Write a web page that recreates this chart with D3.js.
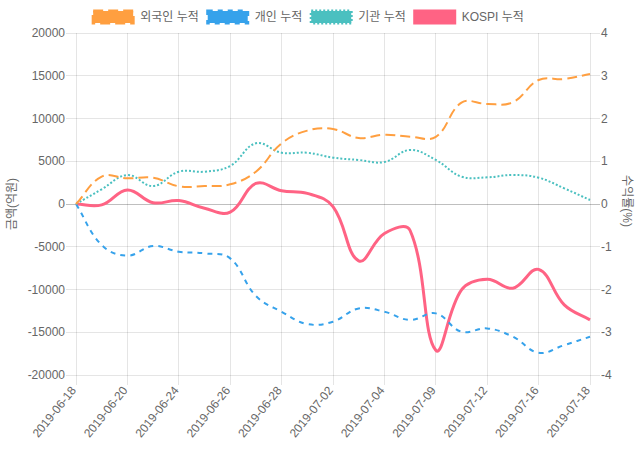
<!DOCTYPE html>
<html><head><meta charset="utf-8">
<script src="https://cdnjs.cloudflare.com/ajax/libs/d3/7.8.5/d3.min.js"></script>
<style>
html,body{margin:0;padding:0;background:#fff;}
svg{display:block;font-family:"Liberation Sans",Arial,"Noto Sans CJK KR",sans-serif;}
</style></head>
<body><svg id="c" width="640" height="450"></svg>
<script>
const dates = ["2019-06-18","2019-06-19","2019-06-20","2019-06-21","2019-06-24","2019-06-25","2019-06-26","2019-06-27","2019-06-28","2019-07-01","2019-07-02","2019-07-03","2019-07-04","2019-07-08","2019-07-09","2019-07-10","2019-07-12","2019-07-15","2019-07-16","2019-07-17","2019-07-18"];
const foreign = [0,3200,3000,3080,2070,2100,2300,3780,7100,8580,8775,7720,8110,7880,7850,11850,11700,11900,14500,14620,15210];
const individual = [0,-4800,-6040,-4910,-5580,-5770,-6360,-10760,-12600,-14040,-13770,-12210,-12600,-13570,-12790,-14940,-14550,-15520,-17400,-16500,-15520];
const institution = [0,1720,3390,2100,3780,3780,4450,7100,6000,6000,5420,5150,4910,6320,5150,3200,3120,3390,3080,1830,470];
const kospi = [0,-0.02,0.33,0.03,0.08,-0.1,-0.19,0.48,0.31,0.25,-0.06,-1.33,-0.69,-0.62,-3.42,-2.01,-1.76,-1.97,-1.53,-2.36,-2.71];
const leftTicks = [-20000,-15000,-10000,-5000,0,5000,10000,15000,20000];
const rightTicks = [-4,-3,-2,-1,0,1,2,3,4];
const seriesNames = ["외국인 누적","개인 누적","기관 누적","KOSPI 누적"];
const seriesColors = ["rgb(255,159,64)","rgb(54,162,235)","rgb(75,192,192)","rgb(255,99,132)"];
const leftTitle = "금액(억원)";
const rightTitle = "수익률(%)";

const svg = d3.select("#c");
const L = 76, R = 590, T = 33, B = 375;
const x = d3.scalePoint().domain(dates).range([L, R]);
const yL = d3.scaleLinear().domain([-20000, 20000]).range([B, T]);
const yR = d3.scaleLinear().domain([-4, 4]).range([B, T]);
const shownDates = dates.filter((d, i) => i % 2 === 0);

// Chart.js-style spline (tension 0.4)
function ChartJsCurve(ctx){ this._ctx = ctx; }
ChartJsCurve.prototype = {
  areaStart(){}, areaEnd(){},
  lineStart(){ this._p = []; },
  point(px, py){ this._p.push([+px, +py]); },
  lineEnd(){
    const p = this._p, n = p.length, t = 0.4, c = this._ctx;
    if (!n) return;
    const cps = p.map((cur, i) => {
      const prev = i > 0 ? p[i-1] : cur, next = i < n-1 ? p[i+1] : cur;
      const d01 = Math.hypot(cur[0]-prev[0], cur[1]-prev[1]);
      const d12 = Math.hypot(next[0]-cur[0], next[1]-cur[1]);
      let s01 = d01/(d01+d12), s12 = d12/(d01+d12);
      s01 = isNaN(s01) ? 0 : s01; s12 = isNaN(s12) ? 0 : s12;
      const fa = t*s01, fb = t*s12;
      return {
        prev: [cur[0]-fa*(next[0]-prev[0]), cur[1]-fa*(next[1]-prev[1])],
        next: [cur[0]+fb*(next[0]-prev[0]), cur[1]+fb*(next[1]-prev[1])]
      };
    });
    c.moveTo(p[0][0], p[0][1]);
    for (let i = 1; i < n; i++) {
      c.bezierCurveTo(cps[i-1].next[0], cps[i-1].next[1], cps[i].prev[0], cps[i].prev[1], p[i][0], p[i][1]);
    }
  }
};
const chartCurve = ctx => new ChartJsCurve(ctx);

// grid
const g = svg.append("g");
g.selectAll("line.hg").data(leftTicks).enter().append("line")
  .attr("x1", L-10).attr("x2", R+10)
  .attr("y1", d => yL(d)).attr("y2", d => yL(d))
  .attr("stroke", d => d === 0 ? "rgba(0,0,0,0.25)" : "rgba(0,0,0,0.1)").attr("stroke-width", 1)
  .attr("shape-rendering", "crispEdges");
g.selectAll("line.vg").data(shownDates).enter().append("line")
  .attr("x1", d => x(d)).attr("x2", d => x(d))
  .attr("y1", T).attr("y2", B+10)
  .attr("stroke", "rgba(0,0,0,0.1)").attr("stroke-width", 1)
  .attr("shape-rendering", "crispEdges");

// left axis labels
svg.append("g").selectAll("text").data(leftTicks).enter().append("text")
  .attr("x", L-11).attr("y", d => yL(d)).attr("dy", "0.35em")
  .attr("text-anchor", "end").attr("font-size", 12).attr("fill", "#666")
  .text(d => d);
// right axis labels
svg.append("g").selectAll("text").data(rightTicks).enter().append("text")
  .attr("x", R+11).attr("y", d => yR(d)).attr("dy", "0.35em")
  .attr("text-anchor", "start").attr("font-size", 12).attr("fill", "#666")
  .text(d => d);
// x labels
svg.append("g").selectAll("text").data(shownDates).enter().append("text")
  .attr("transform", d => `translate(${x(d)-2.5},${B+13}) rotate(-51)`)
  .attr("dy", "0.35em")
  .attr("text-anchor", "end").attr("font-size", 12).attr("fill", "#666")
  .text(d => d);

// axis titles
svg.append("text").attr("transform", `translate(12,${(T+B)/2}) rotate(-90)`)
  .attr("text-anchor", "middle").attr("dy", "0.35em").attr("font-size", 12).attr("fill", "#666").text(leftTitle);
svg.append("text").attr("transform", `translate(627,${(T+B)/2-3}) rotate(90)`)
  .attr("text-anchor", "middle").attr("dy", "0.35em").attr("font-size", 12).attr("fill", "#666").text(rightTitle);

// lines
const lineL = d3.line().x((d, i) => x(dates[i])).y(d => yL(d)).curve(chartCurve);
const lineR = d3.line().x((d, i) => x(dates[i])).y(d => yR(d)).curve(chartCurve);
const dashes = ["10,5", "5,5", "2,2", null];
const widths = [2, 2, 2, 3];
const datasets = [
  {vals: foreign, line: lineL},
  {vals: individual, line: lineL},
  {vals: institution, line: lineL},
  {vals: kospi, line: lineR}
];
const clip = svg.append("defs").append("clipPath").attr("id", "pc");
clip.append("rect").attr("x", L-5).attr("y", T-5).attr("width", R-L+10).attr("height", B-T+10);
const lg = svg.append("g").attr("clip-path", "url(#pc)");
[3, 2, 1, 0].forEach(i => {
  const p = lg.append("path").attr("d", datasets[i].line(datasets[i].vals))
    .attr("fill", "none").attr("stroke", seriesColors[i]).attr("stroke-width", widths[i])
    .attr("stroke-linejoin", "round");
  if (dashes[i]) p.attr("stroke-dasharray", dashes[i]);
});

// legend
const leg = svg.append("g");
const items = seriesNames.map((name, i) => {
  const t = leg.append("text").attr("font-size", 12).attr("fill", "#666").attr("dy", "0.35em").text(name);
  return {t, w: t.node().getComputedTextLength(), i};
});
const total = d3.sum(items, d => 40 + 6 + d.w + 10);
let cx = 308 - total / 2 + 5;
items.forEach(d => {
  const r = leg.append("rect").attr("x", cx).attr("y", 11).attr("width", 40).attr("height", 12)
    .attr("fill", seriesColors[d.i]).attr("stroke", seriesColors[d.i]).attr("stroke-width", 3);
  if (dashes[d.i]) r.attr("stroke-dasharray", dashes[d.i]);
  d.t.attr("x", cx + 47).attr("y", 17);
  cx += 40 + 6 + d.w + 10;
});
</script></body></html>
